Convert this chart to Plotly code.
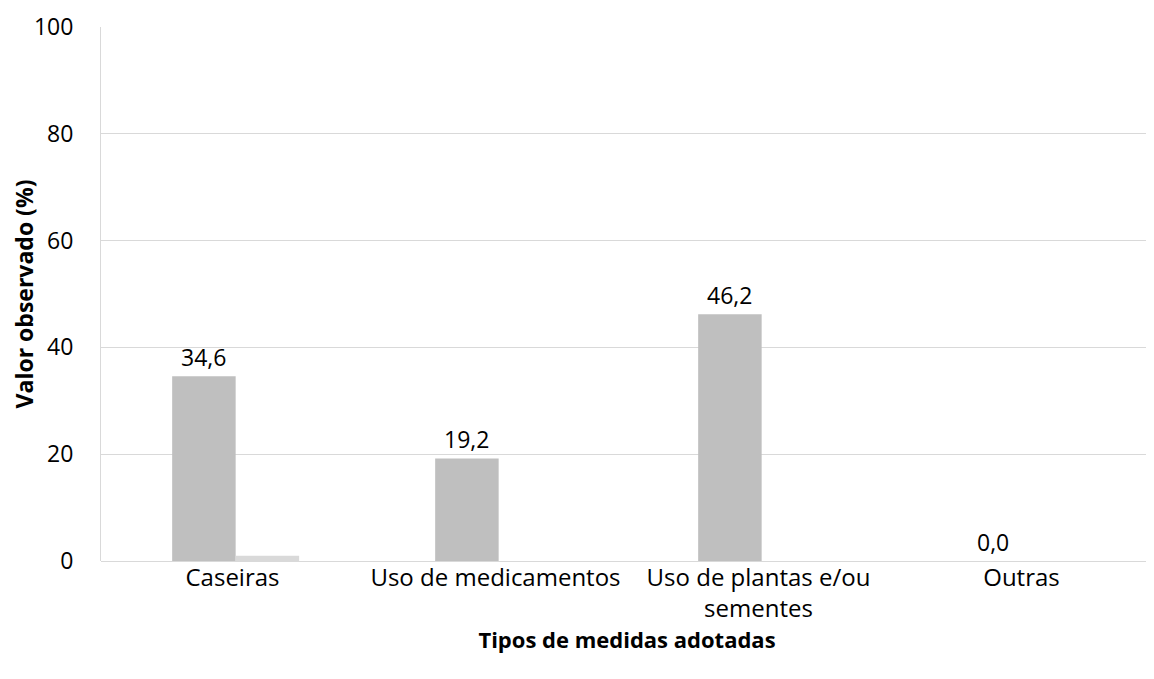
import plotly.graph_objects as go

categories = ["Caseiras", "Uso de medicamentos", "Uso de plantas e/ou<br>sementes", "Outras"]
serie1 = [34.6, 19.2, 46.2, 0.0]
serie2 = [1.0, 0.0, 0.0, 0.0]
y_ticks = [0, 20, 40, 60, 80, 100]

FONT = "'Open Sans', Lato, sans-serif"

BAR_W = 0.2414
SHIFT = 0.012

fig = go.Figure()
fig.add_trace(go.Bar(x=categories, y=serie1, width=BAR_W, offset=-BAR_W + SHIFT,
                     marker=dict(color="#BFBFBF", line=dict(width=0)), name="s1"))
fig.add_trace(go.Bar(x=categories, y=serie2, width=BAR_W, offset=SHIFT,
                     marker=dict(color="#D9D9D9", line=dict(width=0)), name="s2"))

for c, v in zip(categories, serie1):
    fig.add_annotation(x=c, y=v, xref="x", yref="y", text=f"{v:.1f}".replace(".", ","),
                       showarrow=False, xshift=-29, yshift=19,
                       font=dict(family=FONT, size=23, color="#000000"))

# page body has an 8px margin: plot area must land at x 101..1153, y 27..561
fig.update_layout(
    width=1146, height=671,
    margin=dict(l=93, r=1, t=19, b=118),
    paper_bgcolor="white", plot_bgcolor="white",
    barmode="overlay",
    showlegend=False,
    font=dict(family=FONT, size=23, color="#000000"),
    xaxis=dict(
        title=dict(text="<b>Tipos de medidas adotadas</b>", font=dict(family=FONT, size=22), standoff=9),
        showgrid=False, showline=False, ticks="", tickfont=dict(family=FONT, size=24),
        automargin=False,
    ),
    yaxis=dict(
        title=dict(text="<b>Valor observado (%)</b>", font=dict(family=FONT, size=23), standoff=4),
        range=[0, 100], tickvals=y_ticks, ticktext=[str(t) for t in y_ticks],
        showgrid=True, gridcolor="#D9D9D9", gridwidth=1,
        zeroline=True, zerolinecolor="#D9D9D9", zerolinewidth=1,
        showline=True, linecolor="#D9D9D9", linewidth=1, mirror=False,
        ticks="", tickfont=dict(family=FONT, size=23), ticklabelstandoff=22,
        automargin=False,
    ),
)

fig.write_html("out.html")
